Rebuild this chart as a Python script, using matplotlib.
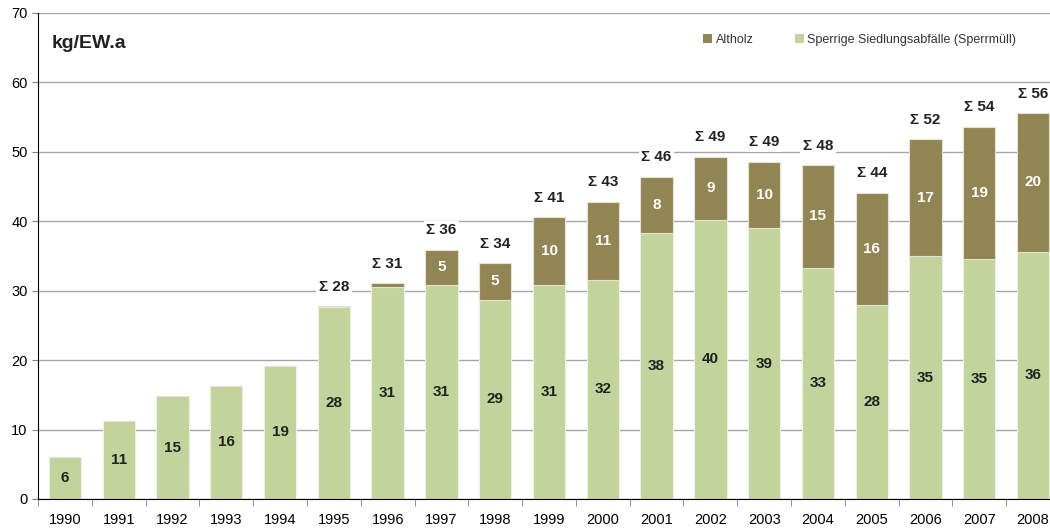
import numpy as np
import matplotlib.pyplot as plt
from matplotlib.patches import Patch

plt.rcParams['font.family'] = ['Liberation Sans', 'DejaVu Sans']

years = [str(y) for y in range(1990, 2009)]
sperrmuell = [6.1, 11.3, 14.8, 16.3, 19.2, 27.6, 30.6, 30.8, 28.7, 30.8,
              31.6, 38.3, 40.2, 39.0, 33.3, 28.0, 35.0, 34.6, 35.6]
altholz = [0, 0, 0, 0, 0, 0.2, 0.5, 5.1, 5.3, 9.8,
           11.2, 8.1, 9.1, 9.6, 14.8, 16.1, 16.8, 19.0, 20.0]

green = '#C2D39C'
brown = '#918553'

fig = plt.figure(figsize=(10.5, 5.29), dpi=100)
ax = fig.add_axes([38 / 1050, 30 / 529, 1022 / 1050, 486 / 529])

x = np.arange(len(years))
sp = np.array(sperrmuell)
ah = np.array(altholz)
tot = sp + ah

ax.bar(x, sp, width=0.6, color=green, edgecolor='#EEF2E2', linewidth=0.8, zorder=2)
ax.bar(x, ah, width=0.6, bottom=sp, color=brown, edgecolor='#E6E2D2', linewidth=0.8, zorder=2)

for i in range(len(x)):
    ax.text(x[i], sp[i] / 2, f'{sp[i]:.0f}', ha='center', va='center',
            fontsize=11, fontweight='bold', color='#222222', zorder=3)
    if ah[i] >= 2:
        ax.text(x[i], sp[i] + ah[i] / 2, f'{ah[i]:.0f}', ha='center', va='center',
                fontsize=11, fontweight='bold', color='white', zorder=3)
    if ah[i] > 0:
        ax.text(x[i], tot[i] + 2.8, f'Σ {tot[i]:.0f}', ha='center', va='center',
                fontsize=11, fontweight='bold', color='#222222', zorder=3,
                bbox=dict(facecolor='white', edgecolor='none', pad=2))

ax.set_xlim(-0.5, len(x) - 0.5)
ax.set_ylim(0, 70)
ax.set_yticks(range(0, 71, 10))
ax.yaxis.grid(True, color='#A6A6A6', linewidth=1)
ax.set_axisbelow(True)

ax.set_xticks(x)
ax.set_xticklabels(years)
ax.set_xticks(np.arange(-0.5, len(x), 1), minor=True)
ax.tick_params(axis='x', which='major', length=0, pad=10, labelsize=10.5)
ax.tick_params(axis='x', which='minor', length=5, color='#808080')
ax.tick_params(axis='y', length=4, labelsize=10.5, color='#808080')

for s in ['top', 'right']:
    ax.spines[s].set_visible(False)
ax.spines['left'].set_color('black')
ax.spines['bottom'].set_color('black')

ax.text(14 / 1022, 0.937, 'kg/EW.a', transform=ax.transAxes, fontsize=14,
        fontweight='bold', color='#222222', va='center')

handles = [Patch(facecolor=brown, edgecolor='none'), Patch(facecolor=green, edgecolor='none')]
fig.legend(handles, ['Altholz', 'Sperrige Siedlungsabfälle (Sperrmüll)'],
           loc='center left', bbox_to_anchor=(692 / 1050, 1 - 40 / 529), ncol=2,
           frameon=False, fontsize=9, handlelength=0.7, handleheight=0.7,
           handletextpad=0.3, columnspacing=3.3, labelcolor='#333333')

fig.savefig('out.png', dpi=100)
